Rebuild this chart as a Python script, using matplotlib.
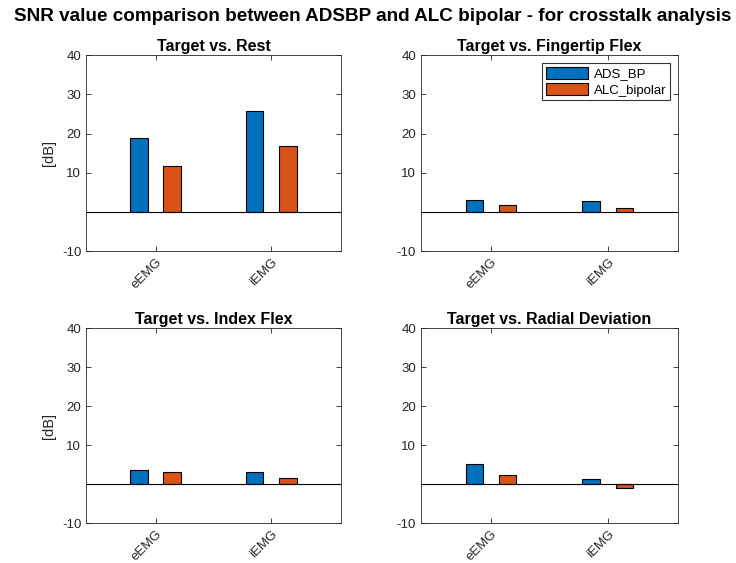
import matplotlib
matplotlib.use("Agg")
import matplotlib.pyplot as plt
import numpy as np

plt.rcParams['font.family'] = ['Liberation Sans', 'DejaVu Sans']
plt.rcParams['axes.unicode_minus'] = False

# data (dB)
categories = ["eEMG", "iEMG"]
series_names = ["ADS_BP", "ALC_bipolar"]
titles = ["Target vs. Rest", "Target vs. Fingertip Flex",
          "Target vs. Index Flex", "Target vs. Radial Deviation"]
ads_bp = [[18.8, 25.8], [3.1, 2.8], [3.7, 3.2], [5.2, 1.2]]
alc_bipolar = [[11.7, 16.8], [1.8, 0.9], [3.0, 1.5], [2.2, -1.1]]
yticks = [-10, 10, 20, 30, 40]

colors = ["#0072BD", "#D95319"]
axcol = "#262626"

fig = plt.figure(figsize=(7.36, 5.63), dpi=100)
fig.suptitle("SNR value comparison between ADSBP and ALC bipolar - for crosstalk analysis",
             fontsize=13.6, fontweight="bold", x=0.506, y=0.985)

# axes positions (left, bottom, width, height) in figure fraction
positions = [
    [0.117, 0.554, 0.346, 0.348],
    [0.572, 0.554, 0.349, 0.348],
    [0.117, 0.071, 0.346, 0.346],
    [0.572, 0.071, 0.349, 0.346],
]

x = np.arange(1, len(categories) + 1)
offset = 0.143
width = 0.15

for i in range(4):
    ax = fig.add_axes(positions[i])
    ax.bar(x - offset, ads_bp[i], width, color=colors[0], edgecolor="black",
           linewidth=0.8, label=series_names[0], zorder=2)
    ax.bar(x + offset, alc_bipolar[i], width, color=colors[1], edgecolor="black",
           linewidth=0.8, label=series_names[1], zorder=2)
    ax.axhline(0, color="black", linewidth=0.8, zorder=3)
    ax.set_xlim(0.4, 2.6)
    ax.set_ylim(-10, 40)
    ax.set_yticks(yticks)
    ax.set_xticks(x)
    ax.set_xticklabels(categories, rotation=45, ha="right", rotation_mode="anchor")
    ax.tick_params(direction="in", top=True, right=True, labelsize=9.5,
                   color=axcol, labelcolor=axcol, length=3.5, width=0.6)
    for s in ax.spines.values():
        s.set_color(axcol)
        s.set_linewidth(0.6)
    ax.set_title(titles[i], fontsize=11.5, fontweight="bold", pad=3)
    if i % 2 == 0:
        ax.set_ylabel("[dB]", fontsize=10.5, color=axcol)
    if i == 1:
        leg = ax.legend(loc="upper right", fontsize=9.5, fancybox=False,
                        edgecolor="black", handlelength=3.2, handleheight=1.0,
                        borderaxespad=0.6, labelspacing=0.2, borderpad=0.3,
                        handletextpad=0.4)
        leg.get_frame().set_linewidth(0.8)

fig.savefig("out.png", dpi=100)
